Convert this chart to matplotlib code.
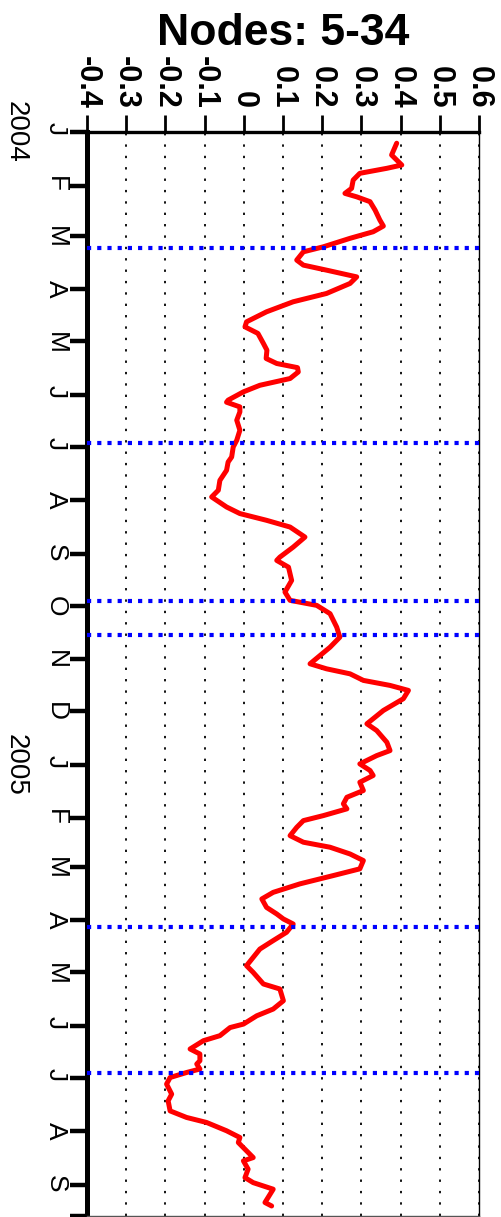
import matplotlib
matplotlib.use('Agg')
import matplotlib.pyplot as plt
import matplotlib.dates as mdates
import pandas as pd
import numpy as np

plt.rcParams['font.family'] = ['Liberation Sans', 'DejaVu Sans']

start = pd.Timestamp('2004-01-01')
axis_end = pd.Timestamp('2005-09-19')

# days after 1 Jan 2004 and the value
days = [6.5, 13.3, 19.1, 21.0, 23.9, 27.8, 32.6, 35.5, 37.5, 40.3,
        45.2, 50.9, 54.4, 57.7, 61.5, 66.4, 69.3, 74.1, 77.0, 79.9,
        83.8, 87.6, 93.4, 98.2, 104.0, 109.8, 112.7, 116.5, 122.3, 126.2,
        131.0, 133.9, 136.3, 138.8, 142.6, 146.5, 150.3, 155.1, 156.3, 159.0,
        161.9, 166.7, 172.5, 178.3, 182.2, 188.0, 190.9, 195.7, 201.5, 207.2,
        211.1, 216.9, 220.7, 224.6, 228.5, 234.3, 240.1, 245.9, 247.8, 251.7,
        259.4, 266.1, 270.9, 273.8, 278.6, 286.4, 292.2, 298.0, 307.6, 310.5,
        313.4, 317.2, 320.1, 323.0, 327.8, 334.6, 342.3, 346.2, 353.0, 357.8,
        360.7, 365.5, 369.3, 372.2, 376.1, 380.9, 384.8, 388.6, 391.5, 395.4,
        398.3, 402.2, 407.0, 410.8, 413.7, 417.6, 421.4, 426.2, 430.1, 434.9,
        439.8, 443.6, 448.5, 452.3, 455.2, 458.1, 462.9, 467.7, 472.6, 477.4,
        482.2, 486.1, 492.8, 495.7, 502.5, 507.3, 511.2, 516.0, 518.0, 522.7,
        525.6, 530.4, 533.3, 537.2, 539.1, 542.0, 544.0, 546.9, 550.7, 556.5,
        560.4, 566.2, 570.0, 572.9, 577.7, 581.6, 584.5, 589.3, 593.2, 595.1,
        599.9, 604.8, 607.7, 611.5, 616.3, 619.2, 621.2]
values = [0.390, 0.377, 0.403, 0.365, 0.296, 0.279, 0.275, 0.258, 0.288, 0.322,
          0.335, 0.347, 0.356, 0.330, 0.271, 0.203, 0.152, 0.135, 0.152, 0.211,
          0.288, 0.271, 0.211, 0.126, 0.058, 0.007, 0.003, 0.036, 0.050, 0.059,
          0.057, 0.084, 0.137, 0.139, 0.118, 0.041, -0.001, -0.040, -0.044, -0.010,
          -0.010, -0.018, -0.010, -0.018, -0.027, -0.031, -0.040, -0.044, -0.061, -0.065,
          -0.082, -0.044, -0.010, 0.058, 0.118, 0.156, 0.126, 0.092, 0.084, 0.114,
          0.122, 0.105, 0.118, 0.186, 0.220, 0.237, 0.245, 0.220, 0.169, 0.211,
          0.271, 0.305, 0.373, 0.420, 0.407, 0.356, 0.314, 0.339, 0.365, 0.373,
          0.339, 0.296, 0.322, 0.330, 0.296, 0.305, 0.263, 0.254, 0.263, 0.203,
          0.152, 0.135, 0.118, 0.152, 0.220, 0.271, 0.305, 0.296, 0.228, 0.143,
          0.075, 0.046, 0.058, 0.084, 0.101, 0.126, 0.109, 0.075, 0.041, 0.024,
          0.007, 0.024, 0.050, 0.092, 0.101, 0.075, 0.033, -0.001, -0.035, -0.061,
          -0.103, -0.137, -0.112, -0.112, -0.120, -0.112, -0.146, -0.188, -0.197, -0.184,
          -0.193, -0.188, -0.146, -0.095, -0.044, -0.010, -0.014, 0.007, 0.024, -0.001,
          0.011, 0.003, 0.024, 0.075, 0.062, 0.054, 0.071]

events = ['2004-03-08', '2004-06-29', '2004-09-28', '2004-10-18',
          '2005-04-05', '2005-06-28']
month_labels = ['J', 'F', 'M', 'A', 'M', 'J', 'J', 'A', 'S', 'O', 'N', 'D',
                'J', 'F', 'M', 'A', 'M', 'J', 'J', 'A', 'S']
years = ['2004', '2005']
value_ticks = [-0.4, -0.3, -0.2, -0.1, 0, 0.1, 0.2, 0.3, 0.4, 0.5, 0.6]
value_labels = ['-0.4', '-0.3', '-0.2', '-0.1', '0', '0.1', '0.2', '0.3',
                '0.4', '0.5', '0.6']

dates = start + pd.to_timedelta(days, unit='D')
month_starts = pd.date_range(start, periods=len(month_labels), freq='MS')

fig = plt.figure(figsize=(5.02, 12.17), dpi=100)
ax = fig.add_axes([87 / 502, 1 / 1217, 392 / 502, 1084 / 1217])

ax.plot(values, dates, color='red', lw=3.6, solid_joinstyle='round',
        solid_capstyle='round', zorder=3)
for ev in events:
    ax.axhline(pd.Timestamp(ev), color='blue', lw=3, linestyle=(0, (1, 1.45)),
               zorder=4)

ax.set_xlim(-0.4, 0.6)
ax.set_ylim(axis_end, start)

ax.xaxis.tick_top()
ax.set_xticks(value_ticks)
ax.set_xticklabels(value_labels, fontsize=22, fontweight='bold', rotation=-90)
ax.tick_params(axis='x', direction='out', length=12, width=2, pad=5)

ticks = list(month_starts) + [axis_end]
ax.set_yticks(ticks)
ax.set_yticklabels(month_labels + [''], fontsize=19, rotation=-90)
ax.tick_params(axis='y', direction='out', length=12, width=3.2, pad=2)

ax.grid(axis='x', color='black', lw=1.3, linestyle=(0, (1.3, 5)))
ax.grid(axis='y', visible=False)

ax.spines['left'].set_linewidth(3.6)
ax.spines['top'].set_linewidth(2.4)
ax.spines['right'].set_linewidth(1.0)
ax.spines['bottom'].set_linewidth(1.0)
ax.spines['bottom'].set_color('#555555')

for yr in years:
    ax.text(-0.181, mdates.date2num(pd.Timestamp(yr + '-01-01')), yr,
            transform=ax.get_yaxis_transform(), rotation=-90,
            ha='center', va='center', fontsize=20)

fig.text(283 / 502, 1 - 45 / 1217, 'Nodes: 5-34', ha='center', va='baseline',
         fontsize=32, fontweight='bold')

fig.savefig('out.png', dpi=100)
